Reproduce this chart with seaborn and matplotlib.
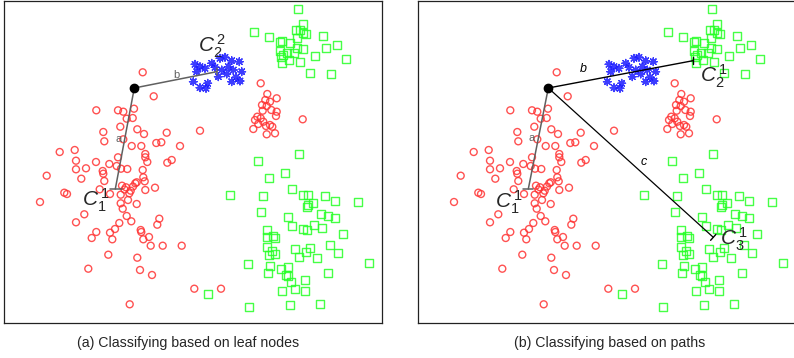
import numpy as np
import pandas as pd
import matplotlib
matplotlib.use("Agg")
import matplotlib.pyplot as plt
import seaborn as sns

sns.set_style("white")
plt.rcParams['font.family'] = ['Liberation Sans Narrow', 'Liberation Sans', 'DejaVu Sans']
plt.rcParams['mathtext.fontset'] = 'custom'
plt.rcParams['mathtext.rm'] = 'Liberation Sans'
plt.rcParams['mathtext.it'] = 'Liberation Sans:italic'

# ---- data (panel coordinates) ----
red_x = [142.7, 153.7, 96.3, 118, 123.3, 134, 126.7, 132.7, 120.3, 137.3, 103.3, 144, 166.7, 123.3,
         104.3, 156.3, 161.3, 131.7, 141.3, 180, 59.7, 74.7, 145.3, 145.3, 76, 96, 118, 109.3, 147.3,
         167.3, 171.7, 116.7, 76, 86, 102.7, 121, 127.3, 142.7, 46.7, 81.3, 103.3, 104.3, 143.3, 136.7,
         155, 200, 40, 64.3, 67, 99.7, 110, 122, 126, 130.7, 135.3, 129.3, 120.7, 145.3, 144.7, 128,
         136.7, 120.7, 122.7, 84.3, 76, 126.7, 131.3, 119.3, 96.3, 91.7, 110, 115, 112.3, 140.7, 141.3,
         143.3, 149, 159.3, 157.3, 150.7, 162.7, 181.7, 108.3, 137.3, 88.3, 140, 152, 194.3, 221, 129.7,
         260.7, 267.3, 276.7, 265.3, 270, 262, 266.7, 276.7, 271.3, 262.7, 276, 257.3, 260.7, 255, 263.3,
         258.3, 270, 266, 253.3, 272.3, 266.7, 275, 302.7, 124.5, 133]
red_y = [72.3, 96.3, 110.3, 110.3, 111.7, 108.7, 118.7, 118, 126.7, 129.3, 132, 134, 132.7, 139.3,
         141.3, 143, 142.3, 146, 146, 146, 152, 150, 154, 157.3, 160.7, 162, 157.3, 164, 162,
         162.7, 160, 166, 169.3, 168.3, 171, 168.7, 169, 170, 175.7, 178.7, 173.7, 181, 177.3, 182.3,
         187.7, 130.7, 202, 192.7, 194, 189.3, 194, 185.7, 187.3, 190.7, 183.3, 193.3, 194.7, 190, 181.3, 200,
         204, 203.3, 208.7, 214.3, 222.3, 216, 221.3, 223, 232, 238, 232.7, 229, 239.3, 230, 232,
         239.3, 237, 218.7, 224.7, 245.7, 245.7, 245.7, 254.7, 257.7, 268.7, 270, 275, 288.7, 288.7, 304.3,
         83.3, 94, 98.3, 100, 101.7, 105, 106, 111.7, 110, 110.7, 116, 116.7, 118.3, 120, 121.7,
         124, 125, 126, 129, 126.7, 134.3, 133.3, 119.3, 189.5, 186.5]

green_x = [298.3, 254.3, 268.7, 303.3, 295.7, 300, 306, 302.7, 281.7, 280, 290, 297.3, 323.3, 337.3,
           325.7, 303.3, 296.7, 280, 287.3, 294, 283.3, 281, 289.3, 300, 315, 345.7, 281.7, 310, 330.7,
           299, 257.7, 268.7, 285.3, 229.7, 263.3, 292.3, 303.3, 308.3, 324.7, 335.3, 358, 261.3, 308.3,
           312.7, 307.3, 321, 328, 335.3, 288, 292, 303.3, 307, 314.3, 322, 343.3, 266.7, 266.7, 273.3,
           274.7, 266.7, 294.7, 310, 306.3, 299, 316.7, 330, 338, 272.3, 269.3, 274.7, 247.7, 269.7,
           281.3, 287.7, 268.3, 285.7, 287.7, 328, 369, 291.3, 304.7, 281.7, 294.7, 305.3, 207.7, 249,
           289.7, 320.3]
green_y = [9, 32.3, 36.7, 24, 30, 30, 34, 32.7, 40.7, 41.7, 42.7, 38.3, 36, 44.7,
           47.7, 48.7, 47.7, 50.7, 52.7, 53.3, 55.3, 57.3, 60, 61.7, 56, 58.7, 62.7, 72.7, 74,
           153.7, 161, 178, 173.3, 194.7, 196.3, 189, 194.7, 194.7, 196.3, 200.7, 202.3, 212, 205.3,
           203, 206.7, 213.7, 215.7, 217.7, 216.7, 226.3, 229, 230, 224.7, 227.7, 234, 230, 237.3, 236,
           238, 246.7, 249.3, 248, 251.7, 256.7, 258, 244.7, 252.7, 250.7, 255, 254, 264.3, 265.7,
           268.7, 267, 272.7, 274.7, 276, 272.7, 263.3, 281.7, 279.7, 290.7, 289.3, 290.7, 293.7, 307,
           305.3, 304.3]

blue_x = [195, 200, 196.7, 205, 211.7, 215, 220, 225, 231.7, 239.3, 228.3, 221.7, 218.3, 226.7,
          233.3, 241.7, 236, 240, 231.7, 193.3, 207.7, 200, 206]
blue_y = [64.3, 66.7, 71.7, 68.3, 63.3, 67.3, 58.3, 57.3, 60.7, 61.7, 66.7, 70, 76.7, 74,
          70, 71.7, 77.3, 81, 81.7, 81.7, 83.3, 87.7, 88.3]

query = (134.3, 88.0)
captions = ["(a) Classifying based on leaf nodes", "(b) Classifying based on paths"]

red = pd.DataFrame({"x": red_x, "y": red_y})
green = pd.DataFrame({"x": green_x, "y": green_y})
blue = pd.DataFrame({"x": blue_x, "y": blue_y})

W, H = 794, 358
fig = plt.figure(figsize=(W / 100, H / 100), dpi=100)
fig.patch.set_facecolor("white")


def make_panel(left_px):
    ax = fig.add_axes([left_px / W, 1 - 323 / H, 378 / W, 322 / H])
    ax.set_xlim(4, 382)
    ax.set_ylim(323, 1)
    ax.set_xticks([])
    ax.set_yticks([])
    for s in ax.spines.values():
        s.set_color("#222222")
        s.set_linewidth(0.9)
        s.set_visible(True)
    sns.scatterplot(data=red, x="x", y="y", marker="o", s=25, color="red", linewidth=1.0, ax=ax)
    c = ax.collections[-1]
    c.set_facecolor("none"); c.set_edgecolor((1, 0.2, 0.2, 0.85))
    sns.scatterplot(data=green, x="x", y="y", marker="s", s=30, color="lime", linewidth=1.0, ax=ax)
    c = ax.collections[-1]
    c.set_facecolor("none"); c.set_edgecolor((0.15, 1, 0.15, 0.85))
    sns.scatterplot(data=blue, x="x", y="y", marker=(8, 2, 0), s=30, color="blue", linewidth=1.0, ax=ax)
    c = ax.collections[-1]
    c.set_facecolor("none"); c.set_edgecolor((0.1, 0.1, 1, 0.85))
    ax.set_xlabel(""); ax.set_ylabel("")
    return ax


# ---- panel (a) ----
ax1 = make_panel(4)
gray = "#606060"
ax1.plot([query[0], 115.3], [query[1], 189], color=gray, lw=1.1, zorder=3)
ax1.plot([110, 122], [189, 189], color=gray, lw=1.1, zorder=3)
ax1.plot([query[0], 216.7], [query[1], 71.7], color=gray, lw=1.1, zorder=3)
ax1.plot([216.7, 216.7], [68.5, 75], color=gray, lw=1.1, zorder=3)
ax1.text(118.3, 139.3, "a", color=gray, fontsize=8, ha="center", va="center", family="Liberation Sans")
ax1.text(176, 74.5, "b", color=gray, fontsize=8, ha="center", va="center", family="Liberation Sans")
ax1.text(212, 46, r"$C_2^{\,2}$", fontsize=15, ha="center", va="center")
ax1.text(96, 200, r"$C_1^{\,1}$", fontsize=15, ha="center", va="center")
ax1.plot([query[0]], [query[1]], "o", color="black", ms=6, zorder=4)

# ---- panel (b) ----
ax2 = make_panel(418)
ax2.plot([query[0], 114.3], [query[1], 189], color=gray, lw=1.1, zorder=3)
ax2.plot([109, 119], [189, 189], color=gray, lw=1.1, zorder=3)
ax2.plot([query[0], 279], [query[1], 60.7], color="black", lw=1.0, zorder=3)
ax2.plot([279, 279], [57.5, 64.5], color="black", lw=1.0, zorder=3)
ax2.plot([query[0], 299.3], [query[1], 237.3], color="black", lw=0.9, zorder=3)
ax2.plot([299.3 - 2.7, 299.3 + 2.7], [237.3 + 3.0, 237.3 - 3.0], color="black", lw=1.0, zorder=3)
ax2.text(117.5, 138.5, "a", color=gray, fontsize=8, ha="center", va="center", family="Liberation Sans")
ax2.text(169.5, 68.5, "b", color="black", fontsize=9, style="italic", ha="center", va="center", family="Liberation Sans")
ax2.text(230, 162, "c", color="black", fontsize=9, style="italic", ha="center", va="center", family="Liberation Sans")
ax2.text(300, 76, r"$C_2^{\,1}$", fontsize=15, ha="center", va="center")
ax2.text(320, 239, r"$C_3^{\,1}$", fontsize=15, ha="center", va="center")
ax2.text(95, 202, r"$C_1^{\,1}$", fontsize=15, ha="center", va="center")
ax2.plot([query[0]], [query[1]], "o", color="black", ms=6, zorder=4)

fig.text(188.5 / W, 1 - 343 / H, captions[0], ha="center", va="center", fontsize=10.2)
fig.text(609.5 / W, 1 - 343 / H, captions[1], ha="center", va="center", fontsize=10.2)

fig.savefig("out.png", dpi=100, facecolor="white")
